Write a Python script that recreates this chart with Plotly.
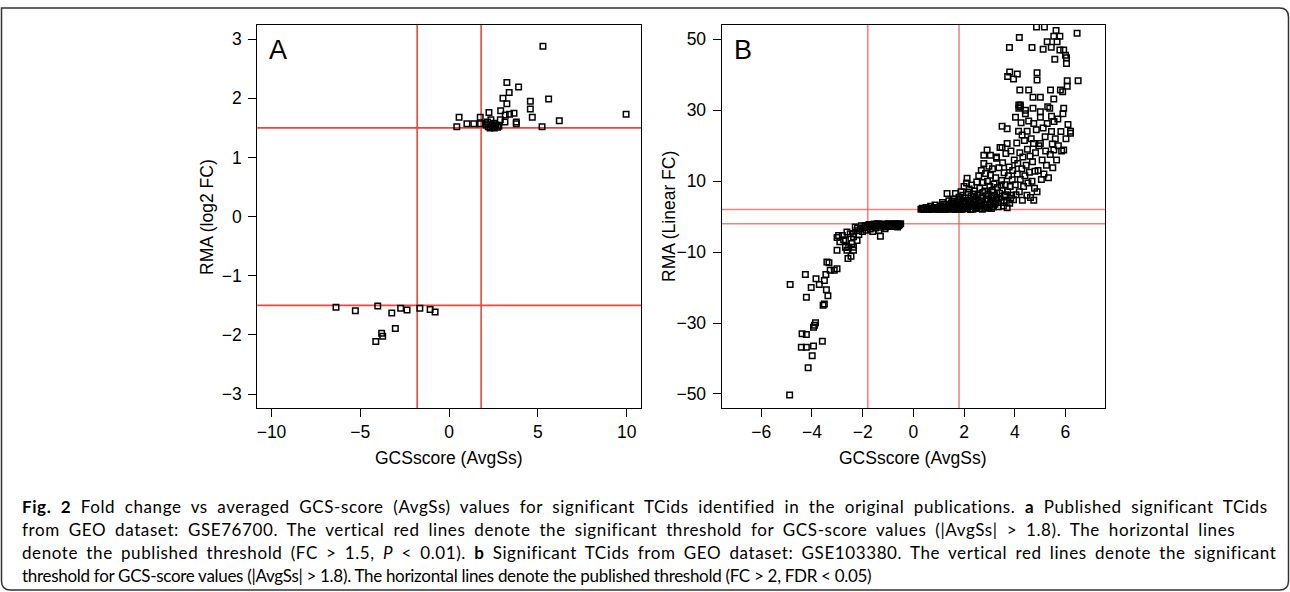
import plotly.graph_objects as go

# ---------------- Panel A data (GSE76700) ----------------
a_x = [5.28, 3.25, 3.91, 3.38, 3.03, 5.60, 3.25, 4.57, 4.57, 2.90, 2.24, 3.16, 3.40, 3.65,
       0.56, 1.75, 9.96, 4.68, 6.20, 3.78, 3.78, 3.14, 2.88, 2.35, 2.16, 2.05, 1.00, 1.39,
       1.77, 0.43, 5.23, 2.10, 2.20, 2.30, 2.45, 2.55, 2.62, 2.72, 2.80, 2.35, 2.50,
       -6.37, -5.28, -4.02, -3.23, -2.73, -2.37, -1.65, -1.07, -0.79, -3.03, -3.80, -3.74, -4.13]
a_y = [2.88, 2.27, 2.19, 2.10, 2.00, 1.99, 1.91, 1.95, 1.82, 1.79, 1.76, 1.72, 1.73, 1.75,
       1.68, 1.68, 1.73, 1.68, 1.62, 1.60, 1.57, 1.60, 1.64, 1.64, 1.60, 1.57, 1.57, 1.57,
       1.57, 1.52, 1.52, 1.55, 1.52, 1.50, 1.53, 1.50, 1.55, 1.51, 1.53, 1.56, 1.58,
       -1.53, -1.59, -1.51, -1.63, -1.55, -1.58, -1.55, -1.57, -1.61, -1.89, -1.97, -2.02, -2.11]

# ---------------- Panel B data (GSE103380) ----------------
b_x = [
    # positive band, x 0.3-1.0
    0.30, 0.35, 0.42, 0.50, 0.55, 0.62, 0.68, 0.75, 0.80, 0.86, 0.92, 0.97, 0.45, 0.65, 0.88,
    0.38, 0.58, 0.72, 0.83, 0.95,
    # x 1.0-1.8
    1.02, 1.05, 1.10, 1.15, 1.18, 1.22, 1.28, 1.33, 1.35, 1.40, 1.42, 1.47, 1.50, 1.55, 1.58,
    1.62, 1.66, 1.68, 1.72, 1.75, 1.78, 1.80, 1.12, 1.25, 1.38, 1.52, 1.64, 1.76,
    1.08, 1.20, 1.31, 1.44, 1.57, 1.70,
    # x 1.8-2.5
    1.82, 1.85, 1.88, 1.90, 1.92, 1.95, 1.98, 2.00, 2.02, 2.05, 2.08, 2.10, 2.12, 2.14, 2.16,
    2.18, 2.20, 2.22, 2.25, 2.28, 2.30, 2.32, 2.35, 2.38, 2.40, 2.42, 2.45, 2.48, 2.50, 1.86,
    1.96, 2.06, 2.26, 2.36, 2.44, 1.93, 2.03, 2.13, 2.24, 2.33, 2.41, 2.47,
    # x 2.5-3.2
    2.52, 2.55, 2.58, 2.60, 2.62, 2.65, 2.68, 2.70, 2.72, 2.75, 2.78, 2.80, 2.82, 2.85, 2.88,
    2.90, 2.92, 2.95, 2.98, 3.00, 3.02, 3.04, 3.06, 3.08, 3.10, 3.12, 3.15, 3.18, 3.20, 2.64,
    2.74, 2.84, 2.94, 3.05, 3.16, 2.91, 2.78, 3.04, 3.28, 2.56, 2.69, 2.87, 2.99, 3.13,
    # x 3.2-4.0
    3.22, 3.25, 3.28, 3.30, 3.32, 3.35, 3.38, 3.40, 3.42, 3.45, 3.48, 3.50, 3.52, 3.55, 3.58,
    3.60, 3.62, 3.65, 3.68, 3.70, 3.72, 3.75, 3.78, 3.80, 3.82, 3.85, 3.88, 3.90, 3.92, 3.95,
    3.98, 3.50, 3.70, 3.36, 3.46, 3.64, 3.70, 3.50, 3.26, 3.57, 3.84,
    # x 4.0-4.9
    4.02, 4.03, 4.05, 4.08, 4.10, 4.12, 4.15, 4.16, 4.18, 4.20, 4.22, 4.22, 4.25, 4.28, 4.29,
    4.30, 4.32, 4.35, 4.38, 4.40, 4.42, 4.45, 4.48, 4.49, 4.50, 4.52, 4.55, 4.55, 4.58, 4.60,
    4.62, 4.65, 4.68, 4.70, 4.72, 4.72, 4.74, 4.75, 4.75, 4.78, 4.80, 4.82, 4.85, 4.88, 4.88,
    4.88,
    # x 4.9-5.7
    4.92, 4.95, 5.01, 5.01, 5.01, 5.01, 5.05, 5.08, 5.12, 5.12, 5.15, 5.17, 4.86, 5.20, 5.22,
    5.25, 5.28, 5.28, 5.30, 5.33, 5.38, 5.40, 5.41, 5.44, 5.45, 5.48, 5.50, 5.54, 5.54, 5.54,
    5.55, 5.58, 5.60, 5.63, 5.67, 5.45,
    # x 5.6-6.5
    5.65, 5.70, 5.72, 5.78, 5.78, 5.80, 5.82, 5.85, 5.89, 5.90, 5.93, 5.93, 5.93, 6.00, 6.02,
    6.04, 6.07, 6.07, 6.10, 6.20, 6.20, 6.46, 6.50, 6.04,
    # upper scattered
    4.18, 3.79, 4.68, 3.80, 3.95, 4.10, 3.72, 4.20, 4.22, 4.16, 4.42,
    # negative band x -0.5 to -2
    -0.50, -0.55, -0.60, -0.65, -0.70, -0.75, -0.80, -0.85, -0.90, -0.95, -1.00, -1.05, -1.10,
    -1.15, -1.20, -1.25, -1.30, -1.35, -1.40, -1.45, -1.50, -1.55, -1.60, -1.65, -1.70, -1.75,
    -1.80, -1.85, -1.90, -1.30, -1.95, -2.00, -2.05, -1.12, -0.62, -1.36, -1.60,
    -0.58, -0.78, -0.98, -1.18, -1.42, -1.68,
    # x -2 to -3
    -2.10, -2.15, -2.22, -2.22, -2.29, -2.36, -2.36, -2.42, -2.46, -2.49, -2.55, -2.58, -2.62,
    -2.68, -2.75, -2.80, -2.95, -3.01, -3.01, -2.36, -2.20, -2.62, -2.90,
    # x -3 to -5
    -3.33, -3.28, -3.12, -3.45, -4.26, -4.86, -3.84, -3.71, -3.51, -4.03, -4.22, -3.43, -3.37,
    -3.56, -3.51, -3.90, -3.86, -3.94, -4.39, -4.22, -4.42, -4.22, -3.94, -3.59, -3.99, -4.15,
    -4.88, -3.41, -3.01, -2.68, -2.36,
]
b_y = [
    2.1, 2.4, 2.0, 2.6, 2.2, 2.0, 2.9, 2.3, 2.1, 3.3, 2.5, 2.0, 2.3, 2.4, 2.2,
    2.2, 2.1, 2.2, 2.6, 2.3,
    2.2, 3.0, 2.4, 4.0, 2.1, 2.7, 3.5, 6.5, 2.3, 4.5, 2.9, 2.1, 3.7, 2.5, 5.0,
    3.1, 6.5, 2.2, 4.2, 2.7, 3.4, 5.5, 2.6, 2.0, 3.2, 4.4, 2.0, 2.1,
    2.0, 3.4, 2.5, 2.2, 3.9, 2.4,
    2.3, 4.8, 7.0, 3.0, 2.1, 6.0, 3.8, 8.5, 2.5, 5.2, 4.0, 9.5, 10.8, 2.2, 6.8,
    3.3, 7.8, 4.6, 2.8, 5.8, 8.9, 3.6, 2.1, 6.4, 4.2, 7.2, 2.6, 5.0, 9.8, 2.0,
    4.4, 3.0, 2.0, 4.9, 3.4, 2.5, 3.6, 2.7, 4.0, 2.9, 5.6, 2.3,
    3.0, 6.0, 11.5, 2.3, 8.0, 4.4, 13.0, 5.5, 2.1, 9.6, 15.0, 3.6, 7.2, 12.2, 4.8,
    2.7, 10.0, 6.4, 14.2, 3.2, 8.6, 11.7, 5.2, 2.3, 7.4, 13.5, 4.2, 9.2, 6.0, 3.3,
    6.8, 2.4, 5.0, 3.9, 2.8, 18.8, 17.3, 17.3, 16.8, 4.0, 3.1, 5.9, 2.5, 6.9,
    3.5, 11.0, 16.5, 5.4, 8.2, 2.8, 13.8, 6.6, 19.5, 4.0, 10.2, 7.4, 15.2, 3.0, 12.4,
    5.8, 9.0, 17.8, 4.6, 20.6, 7.0, 11.5, 14.0, 3.8, 8.5, 18.5, 6.0, 10.4, 13.0, 4.8,
    16.0, 19.5, 2.5, 5.0, 8.9, 6.2, 24.8, 25.5, 4.6, 4.0, 5.2,
    9.0, 28.0, 6.2, 20.8, 12.0, 15.0, 24.1, 31.5, 7.0, 18.0, 10.5, 31.0, 26.5, 13.5, 23.0,
    4.6, 16.8, 8.5, 21.5, 11.5, 29.0, 14.5, 6.0, 24.1, 19.0, 9.5, 35.7, 27.0, 12.5, 17.0,
    5.4, 22.0, 10.0, 15.5, 33.7, 30.6, 20.6, 4.6, 26.3, 8.0, 12.8, 18.0, 24.5, 7.0, 38.5,
    40.6,
    13.0, 20.0, 29.6, 28.0, 33.7, 20.6, 10.5, 16.0, 47.2, 25.0, 12.0, 53.5, 53.5, 22.5, 18.5,
    14.5, 26.3, 49.3, 31.0, 11.0, 30.6, 17.5, 35.7, 47.8, 24.0, 20.5, 13.8, 33.2, 50.9, 18.8,
    26.8, 44.4, 22.0, 52.5, 49.3, 28.3,
    16.0, 27.5, 20.0, 50.9, 47.0, 35.7, 24.0, 18.5, 35.2, 29.0, 30.6, 47.0, 18.8, 45.5, 22.0,
    43.2, 38.3, 36.8, 26.0, 23.5, 24.1, 51.7, 38.3, 44.8,
    50.5, 47.7, 47.7, 40.8, 38.8, 40.2, 39.5, 35.7, 31.5, 30.6, 30.0,
    -2.0, -2.3, -2.1, -2.6, -2.0, -2.4, -2.2, -2.8, -2.1, -2.5, -2.0, -2.3, -2.9,
    -2.1, -2.5, -2.2, -3.0, -2.1, -2.6, -2.3, -3.2, -2.1, -2.7, -2.4, -3.5, -2.2,
    -2.8, -3.8, -2.5, -5.5, -3.1, -4.2, -2.6, -3.4, -2.9, -3.9, -4.2,
    -2.5, -2.1, -2.7, -2.3, -2.0, -2.9,
    -3.5, -5.0, -4.0, -6.7, -2.9, -5.7, -4.8, -7.6, -11.2, -4.8, -8.6, -11.8, -4.3,
    -6.7, -6.5, -5.3, -5.3, -9.5, -5.9, -8.6, -3.2, -9.5, -7.1,
    -13.0, -15.1, -15.1, -16.3, -16.3, -19.1, -17.5, -19.1, -18.0, -20.0, -22.7, -20.6, -22.3,
    -25.0, -24.6, -30.6, -29.9, -31.2, -33.0, -33.2, -36.8, -36.8, -36.5, -35.1, -39.2, -42.6,
    -50.3, -12.8, -14.7, -8.6, -9.5,
]

# thresholds
a_vlines = [-1.8, 1.8]
a_hlines = [-1.5, 1.5]
b_vlines = [-1.8, 1.8]
b_hlines = [-2, 2]

a_xticks = [-10, -5, 0, 5, 10]
a_yticks = [-3, -2, -1, 0, 1, 2, 3]
b_xticks = [-6, -4, -2, 0, 2, 4, 6]
b_yticks = [-50, -30, -10, 10, 30, 50]

W, H = 1290, 592
def px_x(p): return p / W
def px_y(p): return 1 - p / H

AX_FONT = dict(family="Liberation Sans, Arial, sans-serif", size=17.5, color="black")
MARKER = dict(symbol="square-open", size=5.5, color="black", line=dict(width=1.5, color="black"))

fig = go.Figure()
fig.add_trace(go.Scatter(x=a_x, y=a_y, mode="markers", marker=MARKER,
                         xaxis="x", yaxis="y", showlegend=False))
fig.add_trace(go.Scatter(x=b_x, y=b_y, mode="markers", marker=MARKER,
                         xaxis="x2", yaxis="y2", showlegend=False))

axis_common = dict(showgrid=False, zeroline=False, showline=True, mirror=True,
                   linecolor="black", linewidth=1.2, ticks="outside", ticklen=8,
                   tickcolor="black", tickwidth=1.2, tickfont=AX_FONT, fixedrange=True)

fig.update_layout(
    width=W, height=H, margin=dict(l=0, r=0, t=0, b=0),
    paper_bgcolor="white", plot_bgcolor="white",
    xaxis=dict(domain=[px_x(257.3), px_x(641)], range=[-10.8, 10.8], tickvals=a_xticks,
               anchor="y", **axis_common),
    yaxis=dict(domain=[px_y(408.3), px_y(25)], range=[-3.24, 3.24], tickvals=a_yticks,
               anchor="x", ticklabelstandoff=3, **axis_common),
    xaxis2=dict(domain=[px_x(721.7), px_x(1105)], range=[-7.56, 7.56], tickvals=b_xticks,
                anchor="y2", **axis_common),
    yaxis2=dict(domain=[px_y(408.3), px_y(25)], range=[-54.04, 54.04], tickvals=b_yticks,
                anchor="x2", ticklabelstandoff=3, **axis_common),
)

for v in a_vlines:
    fig.add_shape(type="line", xref="x", yref="y domain", x0=v, x1=v, y0=0, y1=1,
                  line=dict(color="#e8473d", width=1.6), layer="below")
for h in a_hlines:
    fig.add_shape(type="line", xref="x domain", yref="y", x0=0, x1=1, y0=h, y1=h,
                  line=dict(color="#e8473d", width=1.6), layer="below")
for v in b_vlines:
    fig.add_shape(type="line", xref="x2", yref="y2 domain", x0=v, x1=v, y0=0, y1=1,
                  line=dict(color="rgba(232,80,70,0.7)", width=1.6), layer="below")
for h in b_hlines:
    fig.add_shape(type="line", xref="x2 domain", yref="y2", x0=0, x1=1, y0=h, y1=h,
                  line=dict(color="rgba(232,80,70,0.7)", width=1.6), layer="below")

# outer rounded frame
r = 9
fx0, fy0, fx1, fy1 = 1.5, 8, 1288.5, 590
def P(x, y): return f"{px_x(x):.5f},{px_y(y):.5f}"
path = (f"M {P(fx0, fy0)} L {P(fx1 - r, fy0)} Q {P(fx1, fy0)} {P(fx1, fy0 + r)} "
        f"L {P(fx1, fy1 - r)} Q {P(fx1, fy1)} {P(fx1 - r, fy1)} "
        f"L {P(fx0 + r, fy1)} Q {P(fx0, fy1)} {P(fx0, fy1 - r)} Z")
fig.add_shape(type="path", xref="paper", yref="paper", path=path,
              line=dict(color="#333333", width=1.5))

def ann(text, x, y, size=17.5, angle=0, xanchor="center", family="Liberation Sans, Arial, sans-serif"):
    fig.add_annotation(text=text, x=px_x(x), y=px_y(y), xref="paper", yref="paper",
                       showarrow=False, textangle=angle, xanchor=xanchor, yanchor="middle",
                       font=dict(family=family, size=size, color="black"))

ann("GCSscore (AvgSs)", 449, 458)
ann("GCSscore (AvgSs)", 913.4, 458)
ann("RMA (log2 FC)", 207, 217, angle=-90)
ann("RMA (Linear FC)", 669, 217, angle=-90)
ann("A", 278, 50, size=27)
ann("B", 743, 50, size=27)

cap = [
    "<b>Fig. 2</b> Fold change vs averaged GCS-score (AvgSs) values for significant TCids identified in the original publications. <b>a</b> Published significant TCids",
    "from GEO dataset: GSE76700. The vertical red lines denote the significant threshold for GCS-score values (|AvgSs| &gt; 1.8). The horizontal lines",
    "denote the published threshold (FC &gt; 1.5, <i>P</i> &lt; 0.01). <b>b</b> Significant TCids from GEO dataset: GSE103380. The vertical red lines denote the significant",
    "threshold for GCS-score values (|AvgSs| &gt; 1.8). The horizontal lines denote the published threshold (FC &gt; 2, FDR &lt; 0.05)",
]
# justified-looking spacing per caption line: (letter-spacing px, word-spacing px)
cap_spacing = [(0.6, 4.6), (0.6, 4.0), (0.6, 3.3), (-0.3, 0.0)]
for i, line in enumerate(cap):
    ls, ws = cap_spacing[i]
    txt = f'<span style="letter-spacing:{ls}px;word-spacing:{ws}px">{line}</span>'
    ann(txt, 20, 506 + 23.2 * i, size=17, xanchor="left", family="Lato, sans-serif")

fig.write_html("out.html", config={"displayModeBar": False},
               post_script="document.body.style.margin='0';")
